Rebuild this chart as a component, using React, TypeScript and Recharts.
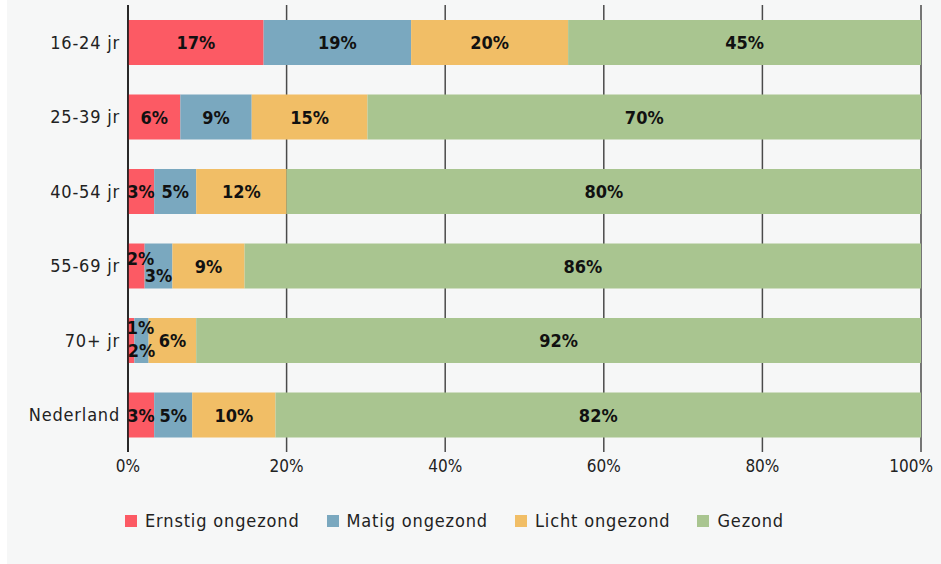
import { BarChart, Bar, XAxis, YAxis, CartesianGrid, LabelList } from "recharts";

const categories = ["16-24 jr", "25-39 jr", "40-54 jr", "55-69 jr", "70+ jr", "Nederland"];

// segment sizes (percent of row)
const ernstig = [17.1, 6.6, 3.3, 2.1, 0.8, 3.3];
const matig = [18.6, 9.0, 5.3, 3.5, 1.8, 4.8];
const licht = [19.8, 14.6, 11.4, 9.1, 6.0, 10.5];
const gezond = [44.5, 69.8, 80.0, 85.3, 91.4, 81.4];

// rounded percentages printed on the bars
const ernstigLabels = [17, 6, 3, 2, 1, 3];
const matigLabels = [19, 9, 5, 3, 2, 5];
const lichtLabels = [20, 15, 12, 9, 6, 10];
const gezondLabels = [45, 70, 80, 86, 92, 82];

const xTicks = [0, 20, 40, 60, 80, 100];

const FONT = "'DejaVu Sans Condensed', 'DejaVu Sans', sans-serif";

const series = [
  { key: "ernstig", name: "Ernstig ongezond", color: "#fc5a64", labels: ernstigLabels },
  { key: "matig", name: "Matig ongezond", color: "#7aa8bf", labels: matigLabels },
  { key: "licht", name: "Licht ongezond", color: "#f1be66", labels: lichtLabels },
  { key: "gezond", name: "Gezond", color: "#a9c590", labels: gezondLabels },
];

const data = categories.map((c, i) => ({
  cat: c,
  ernstig: ernstig[i],
  matig: matig[i],
  licht: licht[i],
  gezond: gezond[i],
}));

function SegLabel({ x, y, width, height, index, skey, labels }: any) {
  const text = `${labels[index]}%`;
  const tw = text.length * 11.5;
  let cx = x + width / 2;
  let dy = 0;
  if (skey === "ernstig") {
    cx = Math.max(cx, x + tw / 2 + 1);
    if (width < 10) dy = -13;
    else if (width < 20) dy = -8;
  }
  if (skey === "matig") {
    const r = ernstig[index];
    if (r < 1.2) dy = 10;
    else if (r < 2.5) dy = 9;
  }
  return (
    <text x={cx} y={y + height / 2 + dy} textAnchor="middle" dominantBaseline="central"
      style={{ fontFamily: FONT, fontWeight: 700, fontSize: 18, fill: "#111" }}>
      {text}
    </text>
  );
}

// keep the last tick label inside the panel
function XTick({ x, y, payload }: any) {
  const last = payload.value === 100;
  return (
    <text x={last ? x + 12 : x} y={y} dy={12} textAnchor={last ? "end" : "middle"}
      style={{ fontFamily: FONT, fontSize: 17, fill: "#222" }}>
      {`${payload.value}%`}
    </text>
  );
}

function LegendRow() {
  return (
    <div style={{ position: "absolute", left: 118, top: 510, display: "flex", fontFamily: FONT, fontSize: 18, color: "#222", letterSpacing: 0.85 }}>
      {series.map((s) => (
        <div key={s.key} style={{ display: "flex", alignItems: "center", marginRight: 27 }}>
          <span style={{ width: 12, height: 12, background: s.color, marginRight: 8, display: "inline-block" }} />
          <span>{s.name}</span>
        </div>
      ))}
    </div>
  );
}

export default function App() {
  return (
    <div style={{ position: "fixed", left: 0, top: 0, width: 941, height: 564, background: "#fff" }}>
      <div style={{ position: "absolute", left: 7, top: 0, width: 934, height: 564, background: "#f6f7f7" }}>
        <BarChart
          width={934}
          height={490}
          data={data}
          layout="vertical"
          margin={{ top: 5, right: 20, left: 0, bottom: 0 }}
          barSize={45}
        >
          <CartesianGrid horizontal={false} stroke="#4a4a4a" strokeWidth={1.5} />
          <XAxis
            type="number"
            domain={[0, 100]}
            ticks={xTicks}
            axisLine={false}
            tickLine={false}
            tickMargin={2}
            height={38}
            tick={<XTick />}
          />
          <YAxis
            type="category"
            dataKey="cat"
            width={121}
            axisLine={{ stroke: "#111", strokeWidth: 1.5 }}
            tickLine={false}
            tick={{ fill: "#222", fontSize: 18, fontFamily: FONT, letterSpacing: 0.8 }}
          />
          {series.map((s) => (
            <Bar key={s.key} dataKey={s.key} name={s.name} stackId="a" fill={s.color} isAnimationActive={false}>
              <LabelList dataKey={s.key} content={(p: any) => <SegLabel {...p} skey={s.key} labels={s.labels} />} />
            </Bar>
          ))}
        </BarChart>
        <LegendRow />
      </div>
    </div>
  );
}
